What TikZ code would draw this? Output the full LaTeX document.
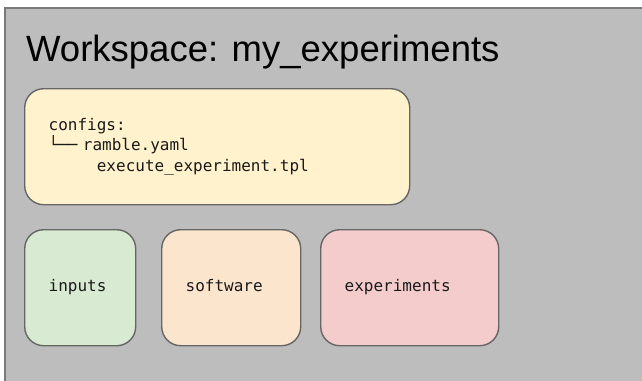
\documentclass[tikz,border=0pt]{standalone}
\usepackage{fontspec}
\newfontfamily\titlefont{Liberation Sans}
\newfontfamily\codefont{DejaVu Sans Mono}
\definecolor{wsfill}{HTML}{BDBDBD}
\definecolor{wsline}{HTML}{7A7A7A}
\definecolor{boxline}{HTML}{666666}
\definecolor{cfgfill}{HTML}{FFF2CC}
\definecolor{infill}{HTML}{D9EAD3}
\definecolor{swfill}{HTML}{FCE5CD}
\definecolor{exfill}{HTML}{F4CCCC}
\definecolor{ink}{HTML}{1A1A1A}
\tikzset{
  dirbox/.style={draw=boxline, line width=1.4pt, rounded corners=19pt,
    anchor=north west, inner xsep=24pt, inner ysep=0pt, align=left,
    minimum height=116pt, text=ink,
    font=\codefont\fontsize{16}{20.5}\selectfont},
  dirname/.style={dirbox, execute at begin node=\strut},
}
\begin{document}
\begin{tikzpicture}[x=1pt, y=-1pt]
  \useasboundingbox (0,0) rectangle (642,380);
  \clip (0,0) rectangle (642,380);
  % workspace frame, running past the right and bottom edges
  \draw[fill=wsfill, draw=wsline, line width=1.6pt] (5,8) rectangle (700,420);
  \node[anchor=base west, inner sep=0pt, text=black,
        font=\titlefont\fontsize{36.5}{40}\selectfont] (title) at (26,61)
        {Workspace: my\_experiments};
  % configs directory
  \node[dirbox, fill=cfgfill, text width=337pt] (configs) at (24,88)
    {configs:\\
     └── ramble.yaml\\
     \hphantom{xxxxx}execute\_experiment.tpl};
  % remaining workspace directories
  \node[dirname, fill=infill, text width=63pt] (inputs) at (24,229) {inputs};
  \node[dirname, fill=swfill, text width=91pt] (software) at (161,229) {software};
  \node[dirname, fill=exfill, text width=130pt] (experiments) at (320,229) {experiments};
\end{tikzpicture}
\end{document}
